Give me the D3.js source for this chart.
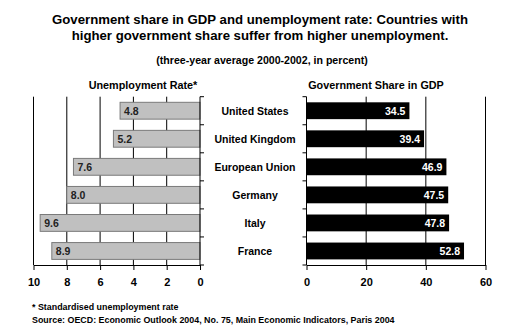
<!DOCTYPE html>
<html><head><meta charset="utf-8">
<script src="https://cdn.jsdelivr.net/npm/d3@7"></script>
<style>
html,body{margin:0;padding:0;background:#fff;}
text{font-family:"Liberation Sans",Arial,sans-serif;font-weight:bold;}
</style></head>
<body>
<svg id="c" width="511" height="334"></svg>
<script>
const countries = ["United States","United Kingdom","European Union","Germany","Italy","France"];
const unemployment = [4.8,5.2,7.6,8.0,9.6,8.9];
const govShare = [34.5,39.4,46.9,47.5,47.8,52.8];
const unempTicks = [10,8,6,4,2,0];
const govTicks = [0,20,40,60];

const svg = d3.select("#c");
const plotTop = 96.7, plotBottom = 265;

const y = d3.scaleBand().domain(countries).range([plotTop,plotBottom]).paddingInner(0.4).paddingOuter(0.2);
const yTicks = d3.scaleBand().domain(countries).range([plotTop,plotBottom]);

const xL = d3.scaleLinear().domain([10,0]).range([33.5,200]);
const xR = d3.scaleLinear().domain([0,60]).range([306.5,485.5]);

// titles
svg.append("text").attr("x",260).attr("y",24).attr("text-anchor","middle").attr("font-size",13.2)
  .text("Government share in GDP and unemployment rate: Countries with");
svg.append("text").attr("x",260).attr("y",40).attr("text-anchor","middle").attr("font-size",13.2)
  .text("higher government share suffer from higher unemployment.");
svg.append("text").attr("x",262).attr("y",63.5).attr("text-anchor","middle").attr("font-size",10.6)
  .text("(three-year average 2000-2002, in percent)");
svg.append("text").attr("x",143).attr("y",89).attr("text-anchor","middle").attr("font-size",10.8)
  .text("Unemployment Rate*");
svg.append("text").attr("x",376).attr("y",89).attr("text-anchor","middle").attr("font-size",10.8)
  .text("Government Share in GDP");

// gridlines
svg.append("g").selectAll("line").data(unempTicks.filter(d=>d!==0)).join("line")
  .attr("x1",d=>xL(d)).attr("x2",d=>xL(d)).attr("y1",plotTop).attr("y2",plotBottom)
  .attr("stroke","#000").attr("stroke-width",1);
svg.append("g").selectAll("line").data(govTicks.filter(d=>d!==0)).join("line")
  .attr("x1",d=>xR(d)).attr("x2",d=>xR(d)).attr("y1",plotTop).attr("y2",plotBottom)
  .attr("stroke","#000").attr("stroke-width",1);

// left bars
svg.append("g").selectAll("rect").data(countries).join("rect")
  .attr("x",(d,i)=>xL(unemployment[i])).attr("y",d=>y(d))
  .attr("width",(d,i)=>xL(0)-xL(unemployment[i])).attr("height",y.bandwidth())
  .attr("fill","#c0c0c0").attr("stroke","#7a7a7a").attr("stroke-width",1);
svg.append("g").selectAll("text").data(countries).join("text")
  .attr("x",(d,i)=>xL(unemployment[i])+4).attr("y",d=>y(d)+y.bandwidth()/2)
  .attr("dy","0.36em").attr("font-size",10.5).attr("fill","#222")
  .text((d,i)=>unemployment[i].toFixed(1));

// right bars
svg.append("g").selectAll("rect").data(countries).join("rect")
  .attr("x",xR(0)).attr("y",d=>y(d))
  .attr("width",(d,i)=>xR(govShare[i])-xR(0)).attr("height",y.bandwidth())
  .attr("fill","#000");
svg.append("g").selectAll("text").data(countries).join("text")
  .attr("x",(d,i)=>xR(govShare[i])-4).attr("y",d=>y(d)+y.bandwidth()/2)
  .attr("dy","0.36em").attr("text-anchor","end").attr("font-size",10.5).attr("fill","#fff")
  .text((d,i)=>govShare[i].toFixed(1));

// category labels
svg.append("g").selectAll("text").data(countries).join("text")
  .attr("x",255).attr("y",d=>yTicks(d)+yTicks.bandwidth()/2)
  .attr("dy","0.36em").attr("text-anchor","middle").attr("font-size",10.5)
  .text(d=>d);

// vertical axes with boundary ticks
const bounds = countries.map(c=>yTicks(c)).concat([plotBottom]);
const lv = svg.append("g");
lv.append("line").attr("x1",200).attr("x2",200).attr("y1",plotTop).attr("y2",plotBottom).attr("stroke","#000");
lv.selectAll("line.t").data(bounds).join("line").attr("class","t")
  .attr("x1",200).attr("x2",204).attr("y1",d=>d).attr("y2",d=>d).attr("stroke","#000");
const rv = svg.append("g");
rv.append("line").attr("x1",306.5).attr("x2",306.5).attr("y1",plotTop).attr("y2",plotBottom).attr("stroke","#000");
rv.selectAll("line.t").data(bounds).join("line").attr("class","t")
  .attr("x1",302.5).attr("x2",306.5).attr("y1",d=>d).attr("y2",d=>d).attr("stroke","#000");

// bottom axes
const axL = d3.axisBottom(xL).tickValues(unempTicks).tickSize(5).tickPadding(8).tickSizeOuter(0).tickFormat(d3.format("d"));
const gL = svg.append("g").attr("transform",`translate(0,${plotBottom})`).call(axL);
const axR = d3.axisBottom(xR).tickValues(govTicks).tickSize(5).tickPadding(8).tickSizeOuter(0).tickFormat(d3.format("d"));
const gR = svg.append("g").attr("transform",`translate(0,${plotBottom})`).call(axR);
[gL,gR].forEach(g=>{
  g.selectAll("text").attr("font-size",11).attr("font-family","Liberation Sans, Arial, sans-serif").attr("font-weight","bold").attr("fill","#000");
  g.selectAll("line,path").attr("stroke","#000");
});

// footnotes
svg.append("text").attr("x",32).attr("y",309.5).attr("font-size",8.9).text("* Standardised unemployment rate");
svg.append("text").attr("x",32).attr("y",322.5).attr("font-size",8.9).text("Source: OECD: Economic Outlook 2004, No. 75, Main Economic Indicators, Paris 2004");
</script>
</body></html>
